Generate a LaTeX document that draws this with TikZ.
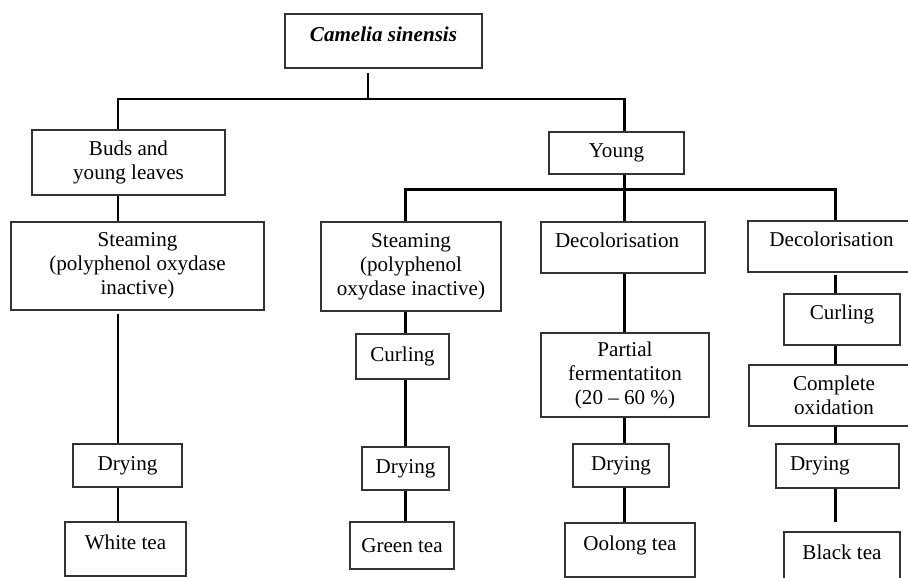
\documentclass[tikz,border=0pt]{standalone}
\usepackage{fontspec}
\setmainfont{Liberation Serif}

\begin{document}
\begin{tikzpicture}[x=1.0cm,y=1.0cm,
  stage/.style={draw=black!80,line width=0.6pt,inner sep=1pt,align=center,font=\fontsize{12}{13.7}\selectfont},
  highline/.style={text height=2.5mm,text depth=2.5mm},
  link/.style={line width=1.7pt}]
\useasboundingbox (0,0) rectangle (18.16,-11.54);
% plant and the two kinds of leaf
\node[stage,highline,minimum width=3.94cm,minimum height=1.08cm] (camelia) at (7.67,-0.82) {\textbf{\textit{Camelia sinensis}}};
\node[stage,minimum width=3.86cm,minimum height=1.30cm] (buds) at (2.57,-3.25) {Buds and\\young leaves};
\node[stage,minimum width=2.70cm,minimum height=0.84cm] (young) at (12.33,-3.06) {Young};
% first treatment of each branch
\node[stage,minimum width=5.06cm,minimum height=1.76cm] (steamA) at (2.75,-5.32) {Steaming\\(polyphenol oxydase\\inactive)};
\node[stage,minimum width=3.60cm,minimum height=1.78cm] (steamB) at (8.22,-5.33) {Steaming\\(polyphenol\\oxydase inactive)};
\node[stage,highline,align=left,inner xsep=0.28cm,text width=2.72cm,minimum height=1.02cm] (decolA) at (12.46,-4.95) {Decolorisation};
\node[stage,highline,minimum width=3.34cm,minimum height=1.02cm] (decolB) at (16.63,-4.93) {Decolorisation};
% curling, fermentation, oxidation
\node[stage,minimum width=1.86cm,minimum height=0.90cm] (curlB) at (8.05,-7.13) {Curling};
\node[stage,highline,minimum width=2.32cm,minimum height=1.02cm] (curlC) at (16.84,-6.39) {Curling};
\node[stage,minimum width=3.36cm,minimum height=1.68cm] (partial) at (12.50,-7.50) {Partial\\fermentatiton\\(20 -- 60 \%)};
\node[stage,minimum width=3.40cm,minimum height=1.22cm] (oxid) at (16.68,-7.91) {Complete\\oxidation};
% drying
\node[stage,minimum width=2.18cm,minimum height=0.86cm] (dryA) at (2.55,-9.31) {Drying};
\node[stage,minimum width=1.74cm,minimum height=0.86cm] (dryB) at (8.11,-9.37) {Drying};
\node[stage,minimum width=1.92cm,minimum height=0.86cm] (dryC) at (12.42,-9.31) {Drying};
\node[stage,align=left,inner xsep=0.28cm,text width=1.90cm,minimum height=0.88cm] (dryD) at (16.75,-9.32) {Drying};
% the four teas
\node[stage,highline,minimum width=2.42cm,minimum height=1.08cm] (white) at (2.51,-10.98) {White tea};
\node[stage,minimum width=2.08cm,minimum height=0.94cm] (green) at (8.04,-10.91) {Green tea};
\node[stage,highline,minimum width=2.60cm,minimum height=1.08cm] (oolong) at (12.60,-11.00) {Oolong tea};
\node[stage,highline,minimum width=2.32cm,minimum height=1.08cm] (black) at (16.84,-11.18) {Black tea};
% columns and bus lines of the tree
\coordinate (stem) at (7.36,0);
\coordinate (colA) at (2.36,0);
\coordinate (colB) at (8.10,0);
\coordinate (colC) at (12.48,0);
\coordinate (colD) at (16.70,0);
\coordinate (busTop) at (0,-1.98);
\coordinate (busMid) at (0,-3.78);
\draw[link,shorten <=0.08cm] (camelia.south -| stem) -- (busTop -| stem);
\draw[link] (buds.north -| colA) -- (busTop -| colA) -- (busTop -| colC) -- (young.north -| colC);
\draw[link] (young.south -| colC) -- (decolA.north -| colC);
\draw[link] (steamB.north -| colB) -- (busMid -| colB) -- (busMid -| colD) -- (decolB.north -| colD);
% white tea
\draw[link] (buds.south -| colA) -- (steamA.north -| colA);
\draw[link,shorten <=0.06cm] (steamA.south -| colA) -- (dryA.north -| colA);
\draw[link] (dryA.south -| colA) -- (white.north -| colA);
% green tea
\draw[link] (steamB.south -| colB) -- (curlB.north -| colB);
\draw[link] (curlB.south -| colB) -- (dryB.north -| colB);
\draw[link] (dryB.south -| colB) -- (green.north -| colB);
% oolong tea
\draw[link] (decolA.south -| colC) -- (partial.north -| colC);
\draw[link] (partial.south -| colC) -- (dryC.north -| colC);
\draw[link] (dryC.south -| colC) -- (oolong.north -| colC);
% black tea
\draw[link,shorten <=0.04cm] (decolB.south -| colD) -- (curlC.north -| colD);
\draw[link] (curlC.south -| colD) -- (oxid.north -| colD);
\draw[link] (oxid.south -| colD) -- (dryD.north -| colD);
\draw[link,shorten >=0.18cm] (dryD.south -| colD) -- (black.north -| colD);
\end{tikzpicture}
\end{document}
